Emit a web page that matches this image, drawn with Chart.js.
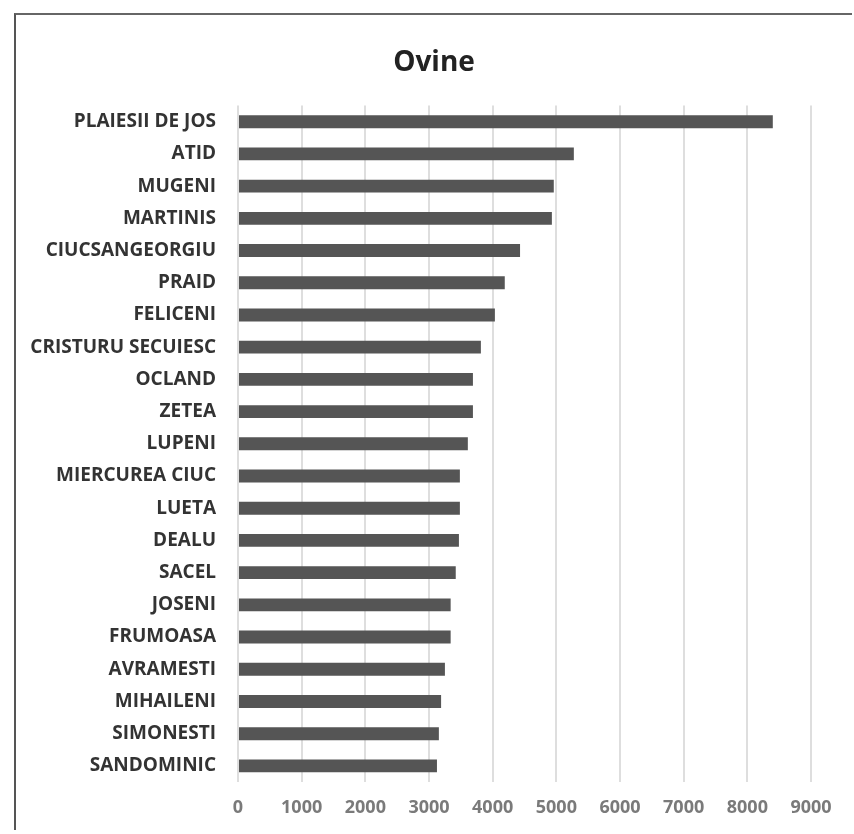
<!DOCTYPE html>
<html>
<head>
<meta charset="utf-8">
<script src="https://cdn.jsdelivr.net/npm/chart.js@4.4.1/dist/chart.umd.min.js"></script>
<style>
  html, body { margin: 0; padding: 0; background: #fff; }
  .frame {
    position: absolute; left: 14px; top: 13px;
    width: 836px; height: 815px;
    border-left: 2px solid #555; border-top: 2px solid #666;
  }
</style>
</head>
<body>
<div class="frame"><canvas id="chart" width="836" height="815"></canvas></div>
<script>
// Ovine - numar de capete pe localitate
const localitati = [
    'PLAIESII DE JOS', 'ATID', 'MUGENI', 'MARTINIS', 'CIUCSANGEORGIU',
    'PRAID', 'FELICENI', 'CRISTURU SECUIESC', 'OCLAND', 'ZETEA',
    'LUPENI', 'MIERCUREA CIUC', 'LUETA', 'DEALU', 'SACEL',
    'JOSENI', 'FRUMOASA', 'AVRAMESTI', 'MIHAILENI', 'SIMONESTI', 'SANDOMINIC'
];
const ovine = [
    8400, 5275, 4960, 4930, 4430,
    4190, 4035, 3815, 3690, 3690,
    3610, 3485, 3485, 3470, 3420,
    3340, 3340, 3250, 3190, 3155, 3125
];
const xTicks = [0, 1000, 2000, 3000, 4000, 5000, 6000, 7000, 8000, 9000];

const ctx = document.getElementById('chart').getContext('2d');
new Chart(ctx, {
    type: 'bar',
    data: {
        labels: localitati,
        datasets: [{
            label: 'Ovine',
            data: ovine,
            backgroundColor: '#555555',
            categoryPercentage: 1,
            barPercentage: 0.4,
        }],
    },
    options: {
        indexAxis: 'y',
        responsive: false,
        animation: false,
        layout: { padding: 0 },
        plugins: {
            legend: { display: false },
            tooltip: { enabled: false },
            title: {
                display: true,
                text: 'Ovine',
                color: '#222',
                font: { family: 'Open Sans', size: 28, weight: 'bold' },
                padding: { top: 31, bottom: 26 },
            },
        },
        scales: {
            x: {
                min: 0,
                max: 9000,
                afterBuildTicks: (axis) => { axis.ticks = xTicks.map(v => ({ value: v })); },
                afterFit: (axis) => { axis.height = 48; axis.paddingRight = 41; },
                grid: { color: '#dedede', lineWidth: 2, drawTicks: false },
                border: { display: false },
                ticks: {
                    padding: 15,
                    color: '#7a7a7a',
                    font: { family: 'Open Sans', size: 18, weight: 'bold' },
                    callback: (value) => String(value),
                },
            },
            y: {
                afterFit: (axis) => { axis.width = 222; },
                grid: { display: false },
                border: { display: false },
                ticks: {
                    padding: 14,
                    color: '#333',
                    font: { family: 'Open Sans', size: 19, weight: 'bold' },
                },
            },
        },
    },
});
</script>
</body>
</html>
